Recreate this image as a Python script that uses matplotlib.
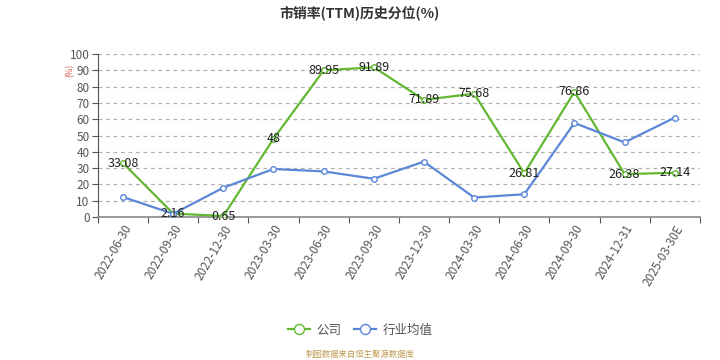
import numpy as np
import matplotlib.pyplot as plt

plt.rcParams['font.family'] = ['Noto Sans CJK SC', 'DejaVu Sans']

dates = ['2022-06-30', '2022-09-30', '2022-12-30', '2023-03-30', '2023-06-30', '2023-09-30',
         '2023-12-30', '2024-03-30', '2024-06-30', '2024-09-30', '2024-12-31', '2025-03-30E']
company = [33.08, 2.16, 0.65, 48, 89.95, 91.89, 71.89, 75.68, 26.81, 76.86, 26.38, 27.14]
industry = [12.3, 2.0, 18.0, 29.5, 28.0, 23.5, 34.0, 12.0, 14.0, 57.7, 45.8, 61.0]

green = '#62b832'
blue = '#5a87d8'

fig = plt.figure(figsize=(7.2, 3.6), dpi=100)
ax = fig.add_axes([0.136, 0.397, 0.836, 0.453])

x = np.arange(len(dates))
ax.plot(x, company, color=green, lw=1.6, marker='o', ms=4, mfc='white', mec=green, mew=1, label='公司', zorder=3)
ax.plot(x, industry, color=blue, lw=1.6, marker='o', ms=4, mfc='white', mec=blue, mew=1, label='行业均值', zorder=3)

for xi, v in zip(x, company):
    ax.text(xi, v, f'{v:g}', ha='center', va='center', fontsize=9, color='#222222', zorder=4)

ax.set_xlim(-0.5, len(dates) - 0.5)
ax.set_ylim(0, 100)
ax.set_yticks(range(0, 101, 10))
ax.set_xticks(np.arange(-0.5, len(dates), 1), minor=False)
ax.set_xticklabels([])
ax.set_xticks(x, minor=True)
ax.set_xticklabels(dates, minor=True, rotation=60, ha='right', rotation_mode='anchor', fontsize=8.5, color='#555555')
ax.tick_params(axis='x', which='minor', length=0, pad=4)
ax.tick_params(axis='x', which='major', length=4, color='#555555')
ax.tick_params(axis='y', labelsize=8.5, labelcolor='#555555', length=4, color='#555555', pad=2)

ax.grid(axis='y', ls=(0, (3, 3)), color='#b0b0b0', lw=0.9)
for s in ['top', 'right']:
    ax.spines[s].set_visible(False)
ax.spines['left'].set_color('#555555')
ax.spines['bottom'].set_color('#888888')
ax.spines['bottom'].set_linewidth(1.2)

fig.text(0.097, 0.805, '(%)', rotation=90, color='#d9534f', fontsize=6, ha='center', va='center')
fig.suptitle('市销率(TTM)历史分位(%)', y=0.985, fontsize=10, fontweight='bold', color='#333333')

fig.legend(loc='center', bbox_to_anchor=(0.5, 0.083), ncol=2, frameon=False, fontsize=9,
           handlelength=1.8, columnspacing=1.0, handletextpad=0.5, labelcolor='#555555', markerscale=1.8)
fig.text(0.5, 0.015, '制图数据来自恒生聚源数据库', ha='center', va='center', fontsize=6, color='#c09a50')

fig.savefig('out.png', dpi=100)
